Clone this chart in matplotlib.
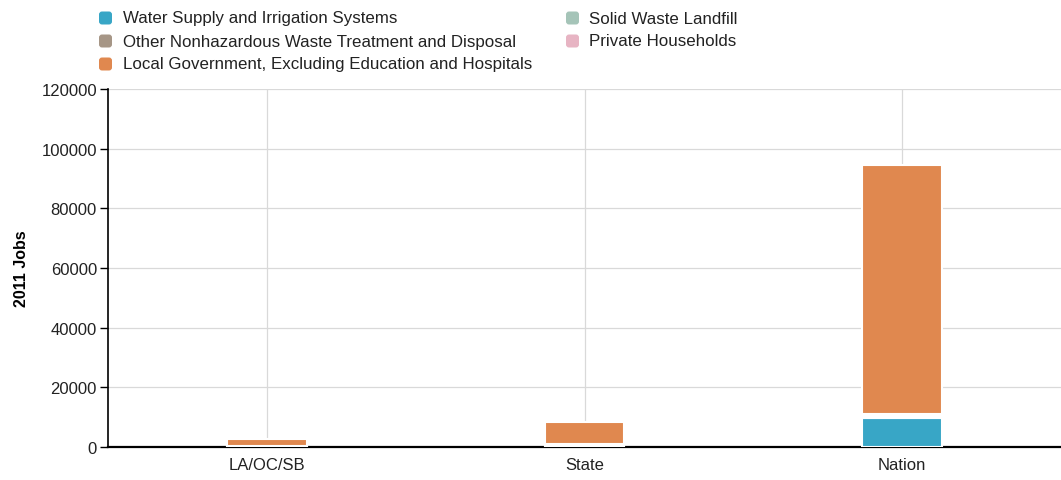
import matplotlib.pyplot as plt
import numpy as np
from matplotlib.patches import FancyBboxPatch

plt.rcParams["font.family"] = ["Liberation Sans", "DejaVu Sans"]

categories = ["LA/OC/SB", "State", "Nation"]
series_names = [
    "Water Supply and Irrigation Systems",
    "Solid Waste Landfill",
    "Other Nonhazardous Waste Treatment and Disposal",
    "Private Households",
    "Local Government, Excluding Education and Hospitals",
]
water_supply = [300, 300, 9700]
solid_waste = [100, 400, 700]
other_nonhaz = [100, 300, 700]
private_households = [0, 0, 0]
local_government = [2300, 7400, 83300]

series_values = [water_supply, solid_waste, other_nonhaz, private_households, local_government]
series_colors = ["#38a6c6", "#a5c4b8", "#a69686", "#e7b4c3", "#e0884f"]

# legend layout of the reference: (series index, column, row)
legend_slots = [(0, 0, 0), (2, 0, 1), (4, 0, 2), (1, 1, 0), (3, 1, 1)]

W, H = 1061, 481
fig = plt.figure(figsize=(W / 100, H / 100), dpi=100)
ax = fig.add_axes([108 / W, 1 - 448 / H, 1 - 108 / W, (448 - 90) / H])

x = np.arange(len(categories))
bottom = np.zeros(len(categories))
for vals, color in zip(series_values, series_colors):
    vals = np.array(vals, dtype=float)
    ax.bar(x, vals, width=0.25, bottom=bottom, color=color,
           edgecolor="white", linewidth=1.5, zorder=3)
    bottom += vals

ax.set_xlim(-0.5, 2.5)
ax.set_ylim(0, 120000)
ax.set_yticks(np.arange(0, 120001, 20000))
ax.set_xticks(x)
ax.set_xticklabels(categories)
ax.grid(True, color="#d9d9d9", linewidth=0.9, zorder=0)
ax.set_axisbelow(True)

for side in ["top", "right"]:
    ax.spines[side].set_visible(False)
ax.spines["left"].set_linewidth(1.2)
ax.spines["bottom"].set_linewidth(1.6)
ax.tick_params(axis="y", length=6, width=1, labelsize=12, pad=2, labelcolor="#222222")
ax.tick_params(axis="x", length=0, labelsize=12, pad=7, labelcolor="#222222")
ax.set_ylabel("2011 Jobs", fontsize=11.5, fontweight="bold", labelpad=9)

# legend drawn by hand (pixel positions, converted to inches)
marker_x = [99, 566]
text_x = [123, 589]
row_y = [19, 42, 65]
for idx, col, row in legend_slots:
    py = row_y[row]
    box = FancyBboxPatch((marker_x[col] / 100, (H - py - 6.5) / 100), 0.13, 0.13,
                         boxstyle="round,pad=0,rounding_size=0.03",
                         transform=fig.dpi_scale_trans, facecolor=series_colors[idx],
                         edgecolor="none")
    fig.add_artist(box)
    fig.text(text_x[col] / W, 1 - py / H, series_names[idx], fontsize=12.2,
             va="center", ha="left", color="#222222")

fig.savefig("out.png", dpi=100)
